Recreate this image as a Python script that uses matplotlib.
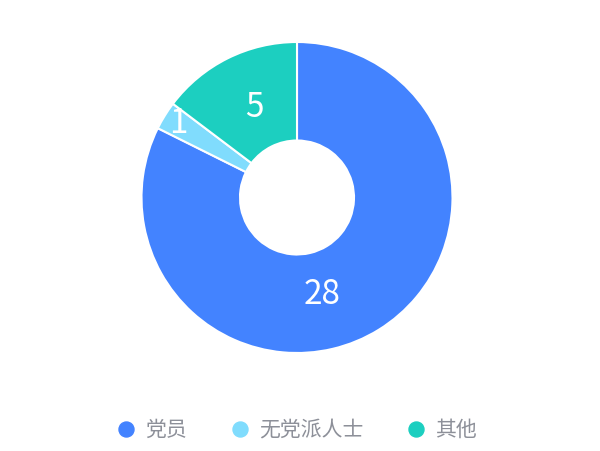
import numpy as np
import matplotlib
matplotlib.use("Agg")
import matplotlib.pyplot as plt
from matplotlib.lines import Line2D

plt.rcParams['font.family'] = ['Noto Sans CJK SC', 'DejaVu Sans']

categories = ['党员', '无党派人士', '其他']
values = [28, 1, 5]
colors = ['#4383ff', '#80dcfd', '#1ccfc0']

W, H = 600, 451
fig = plt.figure(figsize=(W / 100, H / 100), dpi=100)
cx, cy, R = 297, 197.5, 155.5
ax = fig.add_axes([(cx - R) / W, (H - cy - R) / H, 2 * R / W, 2 * R / H])

inner = 57 / R
wedges, _ = ax.pie(values, colors=colors, startangle=90, counterclock=False,
                   radius=1, wedgeprops=dict(width=1 - inner, edgecolor='white', linewidth=1.5))
ax.set_xlim(-1, 1)
ax.set_ylim(-1, 1)
ax.set_aspect('equal')
ax.axis('off')

# label placement (radius, angle shift in degrees) per wedge
label_r = [0.647, 0.90, 0.642]
label_shift = [-17.4, 0, -1.5]
for w, v, r, s in zip(wedges, values, label_r, label_shift):
    ang = np.deg2rad((w.theta1 + w.theta2) / 2 + s)
    ax.text(r * np.cos(ang), r * np.sin(ang), str(v), ha='center', va='center',
            color='white', fontsize=24)

handles = [Line2D([], [], marker='o', linestyle='none', markersize=10.8,
                  markerfacecolor=c, markeredgecolor=c) for c in colors]
fig.legend(handles, categories, loc='center', bbox_to_anchor=(0.494, 1 - 430 / H),
           ncol=3, frameon=False, fontsize=15, labelcolor='#8d9099',
           handlelength=1.0, handletextpad=0.41, columnspacing=2.05)

fig.savefig('out.png', dpi=100, facecolor='white')
